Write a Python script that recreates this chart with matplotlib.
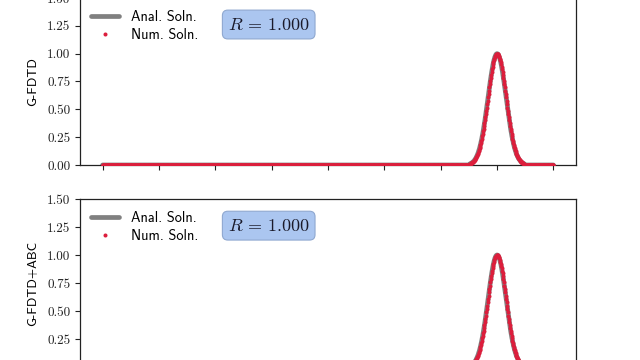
import numpy as np
import matplotlib
matplotlib.use("Agg")
import matplotlib.pyplot as plt

# ---------------- data ----------------
x_start, x_stop, n_samples = 0.0, 8.0, 1001
pulse_start_index = 815          # first sample of the visible pulse (x = 6.52)
pulse_values = [
    0.011, 0.013, 0.015, 0.017, 0.020, 0.023, 0.026, 0.030, 0.034, 0.039,
    0.044, 0.050, 0.056, 0.063, 0.071, 0.080, 0.089, 0.099, 0.110, 0.122,
    0.135, 0.149, 0.164, 0.181, 0.198, 0.216, 0.236, 0.256, 0.278, 0.301,
    0.325, 0.350, 0.375, 0.402, 0.430, 0.458, 0.487, 0.516, 0.546, 0.576,
    0.607, 0.637, 0.667, 0.697, 0.726, 0.755, 0.783, 0.810, 0.835, 0.860,
    0.882, 0.904, 0.923, 0.941, 0.956, 0.969, 0.980, 0.989, 0.995, 0.999,
    1.000,
    0.999, 0.995, 0.989, 0.980, 0.969, 0.956, 0.941, 0.923, 0.904, 0.882,
    0.860, 0.835, 0.810, 0.783, 0.755, 0.726, 0.697, 0.667, 0.637, 0.607,
    0.576, 0.546, 0.516, 0.487, 0.458, 0.430, 0.402, 0.375, 0.350, 0.325,
    0.301, 0.278, 0.256, 0.236, 0.216, 0.198, 0.181, 0.164, 0.149, 0.135,
    0.122, 0.110, 0.099, 0.089, 0.080, 0.071, 0.063, 0.056, 0.050, 0.044,
    0.039, 0.034, 0.030, 0.026, 0.023, 0.020, 0.017, 0.015, 0.013, 0.011,
]
panel_labels = ["G-FDTD", "G-FDTD+ABC"]
r_values = [1.000, 1.000]
legend_labels = ["Anal. Soln.", "Num. Soln."]
x_ticks = [0, 1, 2, 3, 4, 5, 6, 7, 8]
y_ticks = [0.00, 0.25, 0.50, 0.75, 1.00, 1.25, 1.50]

x = np.linspace(x_start, x_stop, n_samples)
y = np.zeros(n_samples)
y[pulse_start_index:pulse_start_index + len(pulse_values)] = pulse_values
analytic = y.copy()
numeric = y.copy()

# ---------------- style ----------------
plt.rcParams["mathtext.fontset"] = "cm"
plt.rcParams["axes.formatter.use_mathtext"] = True

fig = plt.figure(figsize=(6.4, 3.6), dpi=100)
positions = [
    [0.125, 0.5417, 0.775, 0.4639],
    [0.125, -0.0194, 0.775, 0.4666],
]

gray = "#808080"
red = "#dc1e3c"

for i, pos in enumerate(positions):
    ax = fig.add_axes(pos)
    ax.plot(x, analytic, color=gray, lw=3.4, label=legend_labels[0],
            solid_capstyle="round", zorder=2)
    ax.plot(x, numeric, ls="none", marker="o", ms=2.9, mew=0,
            color=red, label=legend_labels[1], zorder=3)
    ax.set_ylim(y_ticks[0], y_ticks[-1])
    ax.set_xticks(x_ticks)
    ax.set_yticks(y_ticks)
    ax.set_yticklabels([f"{t:.2f}" for t in y_ticks], fontfamily="cmr10",
                       fontsize=9.5)
    ax.set_xticklabels([])
    ax.tick_params(direction="out", length=3.5, width=0.8, colors="#222222")
    for sp in ax.spines.values():
        sp.set_color("#222222")
        sp.set_linewidth(0.9)
    ax.set_ylabel(panel_labels[i], fontfamily="cmss10", fontsize=9.5,
                  labelpad=6)
    ax.legend(loc="upper left", frameon=False, numpoints=1,
              prop={"family": "cmss10", "size": 10.3},
              handlelength=2.0, handletextpad=0.85,
              borderaxespad=0.0, bbox_to_anchor=(0.010, 0.963),
              labelspacing=0.3, markerscale=1.0)
    ax.text(0.298, 0.895, rf"$R\,=\,{r_values[i]:.3f}$", transform=ax.transAxes,
            ha="left", va="top", fontsize=13, color="#1a1a2a",
            bbox=dict(boxstyle="round,pad=0.3", facecolor="#abc6f0",
                      edgecolor="#8fa8d0", linewidth=0.8))

fig.savefig("out.png", dpi=100)
